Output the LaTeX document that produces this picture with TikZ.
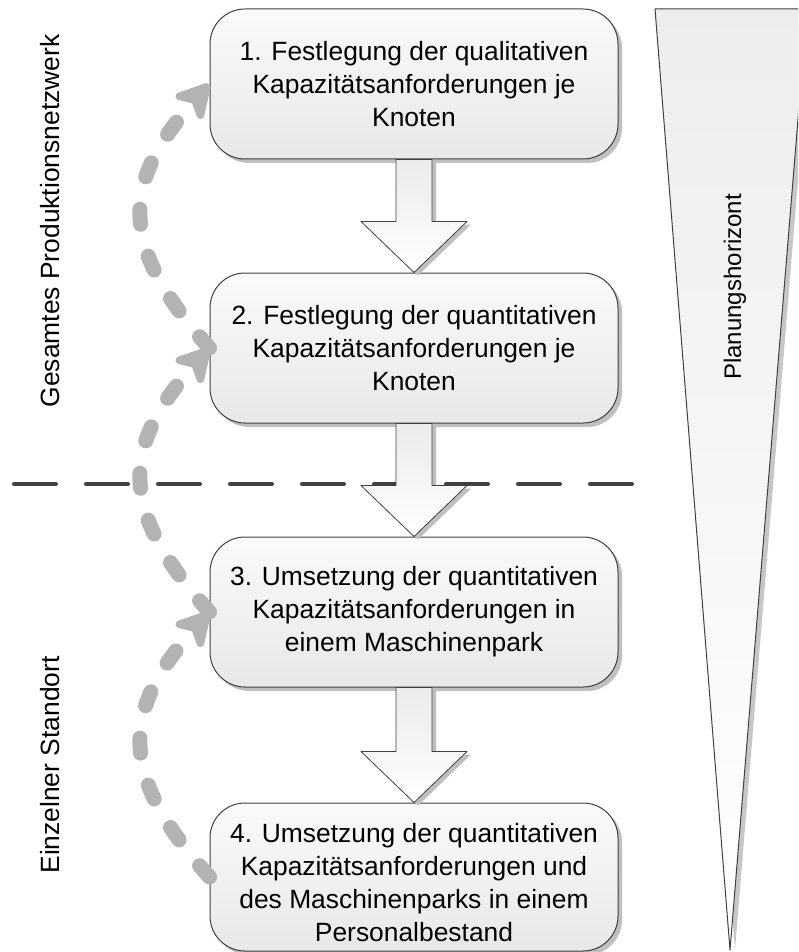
\documentclass[tikz,border=0pt]{standalone}
\usepackage{fontspec}
\setmainfont{Liberation Sans}
\usetikzlibrary{arrows.meta,shadows}
\definecolor{rim}{HTML}{404040}
\definecolor{loopgray}{HTML}{B3B3B3}
\begin{document}
\begin{tikzpicture}[x=1pt, y=-1pt, font=\fontsize{26.4}{33}\selectfont, line join=round,
  stage/.style={draw=rim, line width=1pt, rounded corners=35pt, minimum width=408pt, minimum height=150pt,
    align=center, inner sep=0pt, top color=white!98!black, bottom color=white!91!black,
    drop shadow={shadow xshift=4pt, shadow yshift=-4pt, fill=black!25, opacity=1}},
  blockarrow/.style={draw=rim, line width=.8pt, top color=white!92!black, bottom color=white,
    drop shadow={shadow xshift=4pt, shadow yshift=-3pt, fill=black!25, opacity=1}},
  loopback/.style={loopgray, line width=15pt, line cap=round, dash pattern=on 15pt off 33pt,
    -{Stealth[length=42pt, width=46pt, inset=12pt, round=false]}}]
\useasboundingbox (0,0) rectangle (798,952);
% horizon wedge
\begin{scope}
\clip (0,0) rectangle (798,952);
\fill[black!22] (660,9)--(812,9)--(735,950)--cycle;
\draw[rim, line width=1pt, top color=white!93!black, bottom color=white] (655,9)--(807,9)--(730,950)--cycle;
\end{scope}
\node[rotate=90, font=\fontsize{24}{30}\selectfont] (horizon) at (735,287) {Planungshorizont};
% border between network and site
\draw[rim, line width=4pt, line cap=round, dash pattern=on 42pt off 30pt] (14,484)--(632,484);
% stages
\node[stage] (b1) at (414,84) {1. Festlegung der qualitativen\\Kapazitätsanforderungen je\\Knoten};
\node[stage] (b2) at (414,348) {2. Festlegung der quantitativen\\Kapazitätsanforderungen je\\Knoten};
\node[stage] (b3) at (414,612) {3. Umsetzung der quantitativen\\Kapazitätsanforderungen in\\einem Maschinenpark};
\node[stage, minimum height=148pt] (b4) at (414,877) {};
\node[align=center, inner sep=0pt] (t4) at ([yshift=-6pt]b4.center) {4. Umsetzung der quantitativen\\Kapazitätsanforderungen und\\des Maschinenparks in einem\\Personalbestand};
\node[rotate=90] (net) at (50,221) {Gesamtes Produktionsnetzwerk};
\node[rotate=90] (site) at (50,765) {Einzelner Standort};
% block arrows
\foreach \a/\b in {b1/b2, b2/b3, b3/b4}
  \draw[blockarrow] ([xshift=-18pt]\a.south) -- ([xshift=-18pt, yshift=51pt]\b.north)
    -- ([xshift=-53pt, yshift=51pt]\b.north) -- (\b.north) -- ([xshift=53pt, yshift=51pt]\b.north)
    -- ([xshift=18pt, yshift=51pt]\b.north) -- ([xshift=18pt]\a.south) -- cycle;
% feedback loops
\foreach \a/\b in {b2/b1, b3/b2, b4/b3}
  \draw[loopback] (\a.west) .. controls +(-90,-100) and +(-90,100) .. (\b.west);
\end{tikzpicture}
\end{document}
